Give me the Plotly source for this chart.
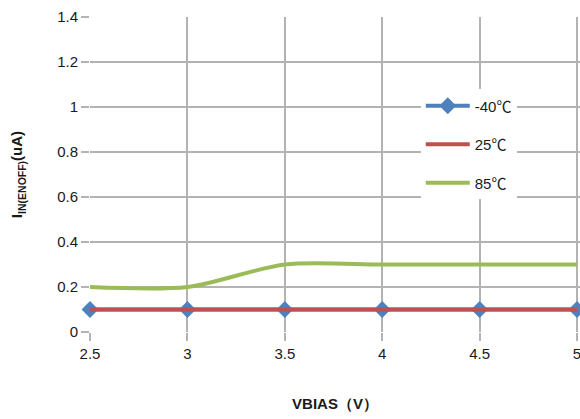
import plotly.graph_objects as go

vbias = [2.5, 3, 3.5, 4, 4.5, 5]
i_m40 = [0.1, 0.1, 0.1, 0.1, 0.1, 0.1]
i_25 = [0.1, 0.1, 0.1, 0.1, 0.1, 0.1]
i_85 = [0.2, 0.2, 0.3, 0.3, 0.3, 0.3]
cjk = "<span style='font-family:Noto Sans CJK SC'>℃</span>"
names = ["-40" + cjk, "25" + cjk, "85" + cjk]
x_ticks = [2.5, 3, 3.5, 4, 4.5, 5]
x_ticklabels = ["2.5", "3", "3.5", "4", "4.5", "5"]
y_ticks = [0, 0.2, 0.4, 0.6, 0.8, 1, 1.2, 1.4]
y_ticklabels = ["0", "0.2", "0.4", "0.6", "0.8", "1", "1.2", "1.4"]

fig = go.Figure()
fig.add_trace(go.Scatter(x=vbias, y=i_m40, name=names[0], mode="lines+markers",
                         line=dict(color="#4F81BD", width=4, shape="spline"),
                         marker=dict(symbol="diamond", size=13, color="#4F81BD"),
                         legendgroup="a", cliponaxis=False))
fig.add_trace(go.Scatter(x=vbias, y=i_25, name=names[1], mode="lines",
                         line=dict(color="#C0504D", width=4, shape="spline"),
                         legendgroup="b", cliponaxis=False))
fig.add_trace(go.Scatter(x=vbias, y=i_85, name=names[2], mode="lines",
                         line=dict(color="#9BBB59", width=4, shape="spline", smoothing=0.8),
                         legendgroup="c", cliponaxis=False))

font = "Liberation Sans, Arial, sans-serif"
fig.update_layout(
    width=580, height=419,
    margin=dict(l=90, r=0, t=17, b=87),
    paper_bgcolor="white", plot_bgcolor="white",
    font=dict(family=font, size=15, color="#1a1a1a"),
    showlegend=True,
    legend=dict(x=0.675, y=0.77, xanchor="left", yanchor="top",
                bgcolor="white", tracegroupgap=16, itemwidth=44,
                font=dict(size=15, color="#1a1a1a")),
    xaxis=dict(range=[2.5, 5.0154], tickvals=x_ticks, ticktext=x_ticklabels,
               showgrid=True, gridcolor="#b3b3b3", gridwidth=1.5,
               ticks="outside", ticklen=8, tickcolor="#b3b3b3", tickwidth=1.5,
               ticklabeloverflow="allow",
               zeroline=False, showline=False, automargin=False,
               title=dict(text="<b>VBIAS（V）</b>", standoff=37, font=dict(size=15))),
    yaxis=dict(range=[0, 1.4], tickvals=y_ticks, ticktext=y_ticklabels,
               showgrid=True, gridcolor="#b3b3b3", gridwidth=1.5,
               ticks="outside", ticklen=8, tickcolor="#b3b3b3", tickwidth=1.5,
               zeroline=False, showline=False, automargin=False,
               title=dict(text="<b>I<sub>IN(ENOFF)</sub>(uA)</b>", standoff=30, font=dict(size=15))),
)
fig.write_html("out.html", config={"displayModeBar": False},
               post_script="document.body.style.margin='0px';document.body.style.overflow='hidden';")
